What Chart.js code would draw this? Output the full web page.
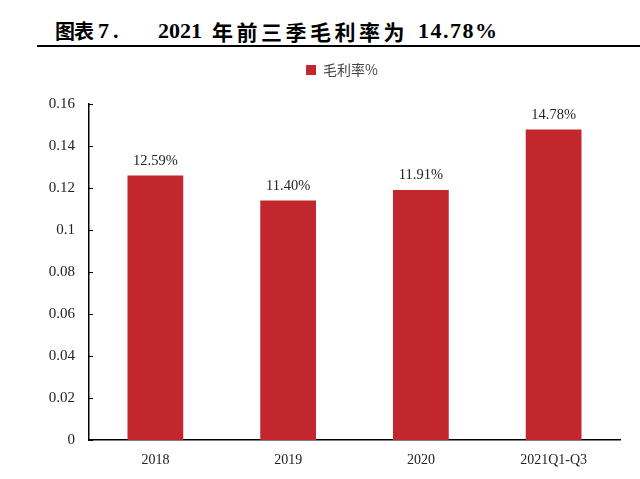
<!DOCTYPE html>
<html>
<head>
<meta charset="utf-8">
<script src="https://cdn.jsdelivr.net/npm/chart.js@4.4.0/dist/chart.umd.min.js"></script>
<style>
  body { margin: 0; background: #fff; }
  .t { position: absolute; top: 20px; line-height: 22px; color: #000; font-weight: bold; white-space: pre; }
  .lat { font-family: "Liberation Serif", serif; font-size: 22px; }
  .cjk { font-family: "Noto Sans CJK SC", sans-serif; font-size: 20px; }
  #rule { position: absolute; left: 37px; top: 45px; width: 603px; height: 2px; background: #000; }
  #wrap { position: absolute; left: 0; top: 55px; width: 640px; height: 424px; }
</style>
</head>
<body>
<span class="t cjk" style="left:55px;letter-spacing:-1px">图表</span>
<span class="t lat" style="left:98px;letter-spacing:4px">7.</span>
<span class="t lat" style="left:158px">2021</span>
<span class="t cjk" style="left:212px;font-size:21px;letter-spacing:3.5px">年前三季毛利率为</span>
<span class="t lat" style="left:418px;letter-spacing:1.5px">14.78%</span>
<div id="rule"></div>
<div id="wrap"><canvas id="chart"></canvas></div>
<script>
// Data
const categories = ['2018', '2019', '2020', '2021Q1-Q3'];
const grossMargin = [0.1259, 0.1140, 0.1191, 0.1478];
const marginLabels = ['12.59%', '11.40%', '11.91%', '14.78%'];
const yTicks = [0, 0.02, 0.04, 0.06, 0.08, 0.1, 0.12, 0.14, 0.16];

const serif = '"Liberation Serif", "Times New Roman", serif';

// extra room under the legend, and nudge it right
const legendSpace = {
  id: 'legendSpace',
  beforeInit(chart) {
    const fit = chart.legend.fit;
    chart.legend.fit = function () {
      fit.call(this);
      this.height += 17;
    };
  },
  afterLayout(chart) {
    chart.legend.left += 32;
    chart.legend.right += 32;
  }
};

// value labels above bars
const barLabels = {
  id: 'barLabels',
  afterDatasetsDraw(chart) {
    const ctx = chart.ctx;
    const meta = chart.getDatasetMeta(0);
    ctx.save();
    ctx.font = '14.5px ' + serif;
    ctx.fillStyle = '#222';
    ctx.textAlign = 'center';
    ctx.textBaseline = 'bottom';
    meta.data.forEach((bar, i) => {
      ctx.fillText(marginLabels[i], bar.x, bar.y - 7);
    });
    ctx.restore();
  }
};

// inward tick marks on y axis
const innerTicks = {
  id: 'innerTicks',
  afterDraw(chart) {
    const ctx = chart.ctx;
    const y = chart.scales.y;
    ctx.save();
    ctx.strokeStyle = '#000';
    ctx.lineWidth = 1;
    yTicks.forEach(v => {
      const py = Math.round(y.getPixelForValue(v)) + 0.5;
      ctx.beginPath();
      ctx.moveTo(y.right, py);
      ctx.lineTo(y.right + 4, py);
      ctx.stroke();
    });
    ctx.restore();
  }
};

new Chart(document.getElementById('chart'), {
  type: 'bar',
  data: {
    labels: categories,
    datasets: [{
      label: '毛利率%',
      data: grossMargin,
      backgroundColor: '#C1272D',
      borderWidth: 0,
      categoryPercentage: 1,
      barPercentage: 0.42
    }]
  },
  options: {
    responsive: true,
    maintainAspectRatio: false,
    animation: false,
    layout: { padding: { top: 0, right: 20, left: 0, bottom: 0 } },
    plugins: {
      legend: {
        position: 'top',
        labels: {
          boxWidth: 10, boxHeight: 10, padding: 8,
          color: '#444',
          font: { size: 14, family: '"Noto Sans CJK SC", sans-serif' }
        }
      },
      tooltip: { enabled: false }
    },
    scales: {
      x: {
        grid: { display: false, drawTicks: false },
        border: { color: '#000', width: 1.5 },
        ticks: { color: '#222', padding: 12, font: { size: 14, family: serif } },
        afterFit(scale) { scale.height = 39; }
      },
      y: {
        min: 0, max: 0.16,
        afterBuildTicks(scale) { scale.ticks = yTicks.map(v => ({ value: v })); },
        grid: { display: false, drawTicks: false },
        border: { color: '#000', width: 1.5 },
        ticks: {
          color: '#222', padding: 14,
          font: { size: 15, family: serif },
          callback: v => String(v)
        },
        afterFit(scale) { scale.width = 89; }
      }
    }
  },
  plugins: [legendSpace, barLabels, innerTicks]
});
</script>
</body>
</html>
